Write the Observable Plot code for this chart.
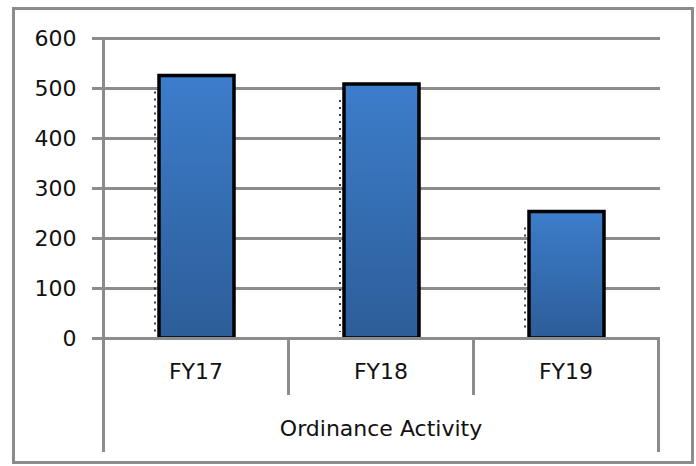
<!DOCTYPE html>
<html><head><meta charset="utf-8">
<script src="https://cdn.jsdelivr.net/npm/d3@7"></script>
<script src="https://cdn.jsdelivr.net/npm/@observablehq/plot@0.6"></script>
<style>body{margin:0;background:#fff}</style>
</head><body><div id="chart"></div>
<script>
const categories = ["FY17", "FY18", "FY19"];
const values = [525, 508, 253];
const yTicks = [0, 100, 200, 300, 400, 500, 600];
const axisTitle = "Ordinance Activity";

const data = categories.map((c, i) => ({category: c, value: values[i]}));
const grid = "#8c8c8c";

const gradDefs = () => {
  const g = d3.create("svg:g");
  const lg = g.append("defs").append("linearGradient")
    .attr("id", "barGrad").attr("x1", 0).attr("y1", 0).attr("x2", 0).attr("y2", 1);
  lg.append("stop").attr("offset", "0%").attr("stop-color", "#3d7dcb");
  lg.append("stop").attr("offset", "100%").attr("stop-color", "#2c5d98");
  return g.node();
};

const chart = Plot.plot({
  width: 696, height: 466,
  marginLeft: 103, marginRight: 38, marginTop: 38, marginBottom: 128,
  style: {fontFamily: "DejaVu Sans", fontSize: "22px", color: "#111", background: "#fff"},
  x: {domain: categories, padding: 0, axis: null},
  y: {domain: [0, 600], axis: null},
  marks: [
    gradDefs,
    Plot.frame({stroke: grid, strokeWidth: 3, insetLeft: -90, insetTop: -30, insetRight: -34, insetBottom: -124}),
    Plot.ruleY(yTicks.filter(d => d > 0), {y: d => d, stroke: grid, strokeWidth: 3, insetLeft: -11, insetRight: -2}),
    Plot.ruleX([categories[0]], {x: d => d, dx: -92.5, stroke: grid, strokeWidth: 3, insetBottom: -114}),
    Plot.ruleX(categories.slice(1), {x: d => d, dx: -92.5, stroke: grid, strokeWidth: 3, insetTop: 300, insetBottom: -57}),
    Plot.ruleX([categories[categories.length - 1]], {x: d => d, dx: 92.5, stroke: grid, strokeWidth: 3, insetTop: 300, insetBottom: -114}),
    Plot.ruleX(data, {x: "category", y1: "value", y2: 0, dx: -41, stroke: "#000", strokeWidth: 1.5, strokeDasharray: "2,5", insetTop: 16, insetBottom: 6}),
    Plot.barY(data, {x: "category", y: "value", fill: "url(#barGrad)", stroke: "#000", strokeWidth: 3.5, insetLeft: 56, insetRight: 54}),
    Plot.ruleY([0], {y: d => d, stroke: grid, strokeWidth: 3, insetLeft: -11, insetRight: -2}),
    Plot.text(yTicks, {y: d => d, text: d => String(d), frameAnchor: "left", dx: -27, textAnchor: "end"}),
    Plot.text(data, {x: "category", text: "category", frameAnchor: "bottom", dy: 40}),
    Plot.text([axisTitle], {text: d => d, frameAnchor: "bottom", dy: 97})
  ]
});
document.getElementById("chart").append(chart);
</script>
</body></html>
